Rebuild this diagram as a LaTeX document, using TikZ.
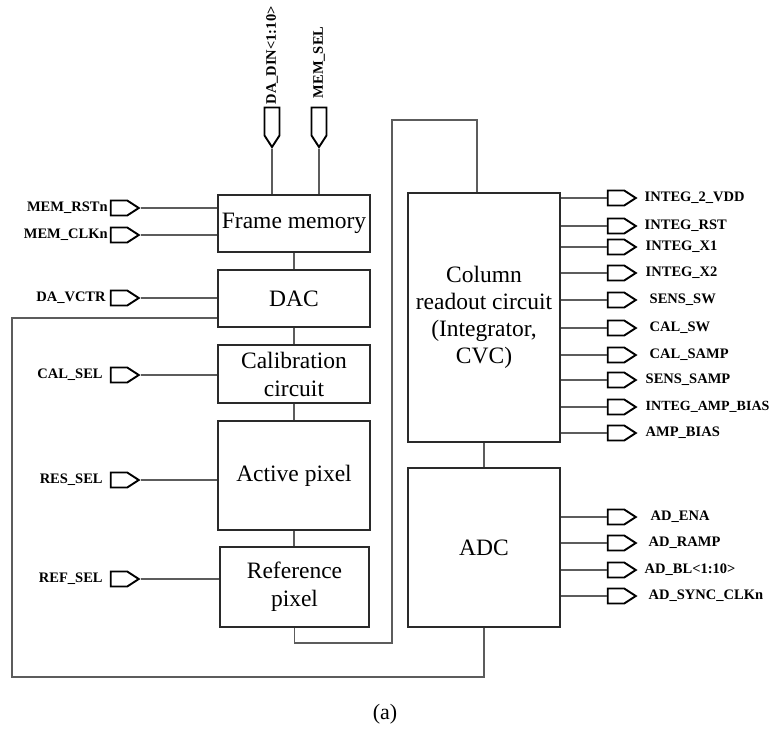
\documentclass[tikz,border=0pt]{standalone}
\usepackage{fontspec}
\setmainfont{Liberation Serif}
\usetikzlibrary{positioning,shapes.symbols}
\definecolor{ink}{HTML}{2A2A2A}
\definecolor{wirec}{HTML}{5C5C5C}
\tikzset{
  block/.style={draw=ink,line width=1.7pt,align=center,inner sep=2pt,minimum width=152pt,font=\fontsize{23.5}{28}\selectfont},
  pinr/.style={signal,signal to=east,signal from=nowhere,draw=black,line width=1.9pt,inner sep=0pt,minimum width=28pt,minimum height=15pt,signal pointer angle=66},
  pind/.style={pinr,signal to=south,minimum width=15pt,minimum height=28pt},
  lbl/.style={font=\fontsize{14.5}{16}\selectfont\bfseries,inner sep=1pt},
  wire/.style={draw=wirec,line width=1.5pt},
}

\begin{document}
\begin{tikzpicture}[x=1pt,y=-1pt]
\useasboundingbox (0,0) rectangle (770,731);

% blocks of the left column
\node[block,minimum height=57pt] (fm) at (294,223.5) {Frame memory};
\node[block,minimum height=57pt] (dac) at (294,298.5) {DAC};
\node[block,minimum height=58pt] (cal) at (294,374) {Calibration\\circuit};
\node[block,minimum height=109pt] (act) at (294,475.5) {Active pixel};
\node[block,minimum width=149pt,minimum height=80pt] (ref) at (294.5,587) {Reference\\pixel};

% blocks of the right column
\node[block,minimum height=249pt,font=\fontsize{23.5}{27}\selectfont] (col) at (484,317.5) {Column\\readout circuit\\(Integrator,\\CVC)};
\node[block,minimum height=159pt] (adc) at (484,547.5) {ADC};

\coordinate (lbot) at (392,643);
\coordinate (ltop) at (392,120);
\coordinate (rbot) at (12,677);
\coordinate (rtop) at (12,318);

\draw[wire] (fm.south) -- (dac.north);
\draw[wire] (dac.south) -- (cal.north);
\draw[wire] (cal.south) -- (act.north);
\draw[wire] (act.south) -- (ref.north -| act.south);
\draw[wire] (col.south) -- (adc.north);
\draw[wire] (ref.south) |- (lbot) -- (ltop) -| ([xshift=-7pt]col.north);
\draw[wire] (adc.south) |- (rbot) -- (rtop) -- (dac.west |- rtop);

% top inputs
\node[pind] (pdin) at (272,121.5) {};
\node[lbl,rotate=90,anchor=west] (tdin) at ([yshift=1pt]pdin.north) {DA\_DIN<1:10>};
\node[pind] (pmsel) at (319,121.5) {};
\node[lbl,rotate=90,anchor=west] (tmsel) at ([yshift=7pt]pmsel.north) {MEM\_SEL};
\draw[wire] (pdin.south) -- (pdin.south |- fm.north);
\draw[wire] (pmsel.south) -- (pmsel.south |- fm.north);

% left inputs
\node[pinr] (pmrst) at (119,208) {};
\node[lbl,left=1pt of pmrst] (tmrst) {MEM\_RSTn};
\node[pinr] (pmclk) at (119,235) {};
\node[lbl,left=1pt of pmclk] (tmclk) {MEM\_CLKn};
\node[pinr] (pvctr) at (119,298) {};
\node[lbl,left=3pt of pvctr] (tvctr) {DA\_VCTR};
\node[pinr] (pcsel) at (119,375) {};
\node[lbl,left=6pt of pcsel] (tcsel) {CAL\_SEL};
\node[pinr] (prsel) at (119,480) {};
\node[lbl,left=6pt of prsel] (trsel) {RES\_SEL};
\node[pinr] (pfsel) at (119,579) {};
\node[lbl,left=6pt of pfsel] (tfsel) {REF\_SEL};
\draw[wire] (pmrst.east) -- (pmrst.east -| fm.west);
\draw[wire] (pmclk.east) -- (pmclk.east -| fm.west);
\draw[wire] (pvctr.east) -- (pvctr.east -| dac.west);
\draw[wire] (pcsel.east) -- (pcsel.east -| cal.west);
\draw[wire] (prsel.east) -- (prsel.east -| act.west);
\draw[wire] (pfsel.east) -- (pfsel.east -| ref.west);

% outputs of the column readout circuit
\node[pinr] (pi2v) at (616,198) {};
\node[lbl,right=6pt of pi2v] (ti2v) {INTEG\_2\_VDD};
\node[pinr] (pirst) at (616,226) {};
\node[lbl,right=6pt of pirst] (tirst) {INTEG\_RST};
\node[pinr] (pix1) at (616,247) {};
\node[lbl,right=7pt of pix1] (tix1) {INTEG\_X1};
\node[pinr] (pix2) at (616,273) {};
\node[lbl,right=7pt of pix2] (tix2) {INTEG\_X2};
\node[pinr] (pssw) at (616,300) {};
\node[lbl,right=11pt of pssw] (tssw) {SENS\_SW};
\node[pinr] (pcsw) at (616,328) {};
\node[lbl,right=11pt of pcsw] (tcsw) {CAL\_SW};
\node[pinr] (pcsa) at (616,355) {};
\node[lbl,right=11pt of pcsa] (tcsa) {CAL\_SAMP};
\node[pinr] (pssa) at (616,380) {};
\node[lbl,right=7pt of pssa] (tssa) {SENS\_SAMP};
\node[pinr] (piab) at (616,407) {};
\node[lbl,right=7pt of piab,font=\fontsize{14}{16}\selectfont\bfseries] (tiab) {INTEG\_AMP\_BIAS};
\node[pinr] (pab) at (616,433) {};
\node[lbl,right=7pt of pab] (tab) {AMP\_BIAS};
\draw[wire] (col.east |- pi2v) -- (pi2v.west);
\draw[wire] (col.east |- pirst) -- (pirst.west);
\draw[wire] (col.east |- pix1) -- (pix1.west);
\draw[wire] (col.east |- pix2) -- (pix2.west);
\draw[wire] (col.east |- pssw) -- (pssw.west);
\draw[wire] (col.east |- pcsw) -- (pcsw.west);
\draw[wire] (col.east |- pcsa) -- (pcsa.west);
\draw[wire] (col.east |- pssa) -- (pssa.west);
\draw[wire] (col.east |- piab) -- (piab.west);
\draw[wire] (col.east |- pab) -- (pab.west);

% outputs of the ADC
\node[pinr] (pena) at (616,517) {};
\node[lbl,right=12pt of pena] (tena) {AD\_ENA};
\node[pinr] (pramp) at (616,543) {};
\node[lbl,right=10pt of pramp] (tramp) {AD\_RAMP};
\node[pinr] (pbl) at (616,570) {};
\node[lbl,right=6pt of pbl] (tbl) {AD\_BL<1:10>};
\node[pinr] (psync) at (616,596) {};
\node[lbl,right=10pt of psync] (tsync) {AD\_SYNC\_CLKn};
\draw[wire] (adc.east |- pena) -- (pena.west);
\draw[wire] (adc.east |- pramp) -- (pramp.west);
\draw[wire] (adc.east |- pbl) -- (pbl.west);
\draw[wire] (adc.east |- psync) -- (psync.west);

\node[font=\fontsize{22}{26}\selectfont] (cap) at (385,714) {(a)};

\end{tikzpicture}
\end{document}
